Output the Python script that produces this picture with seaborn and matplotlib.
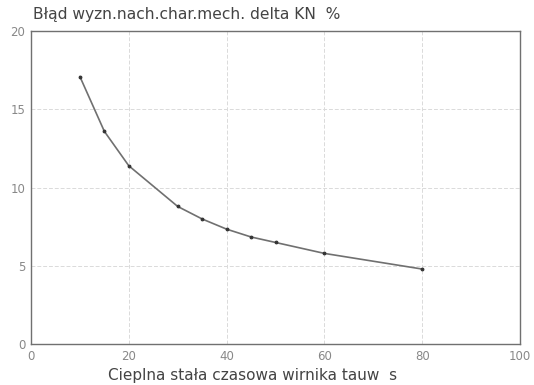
import numpy as np
import pandas as pd
import matplotlib
matplotlib.use("Agg")
import matplotlib.pyplot as plt
import seaborn as sns

# dane
tau_w = [10, 15, 20, 30, 35, 40, 45, 50, 60, 80]
delta_kn = [17.1, 13.6, 11.4, 8.8, 8.0, 7.35, 6.85, 6.5, 5.8, 4.8]
x_ticks = [0, 20, 40, 60, 80, 100]
y_ticks = [0, 5, 10, 15, 20]

df = pd.DataFrame({"tau": tau_w, "delta": delta_kn})

sns.set_theme(style="white")
plt.rcParams['font.family'] = ['DejaVu Sans']

fig = plt.figure(figsize=(5.34, 3.85), dpi=100)
ax = fig.add_axes([0.058, 0.106, 0.916, 0.813])

sns.lineplot(data=df, x="tau", y="delta", ax=ax, color="#707070", linewidth=1.2,
             marker="o", markersize=2.0, markerfacecolor="#333333",
             markeredgecolor="#333333")

ax.set_xlim(0, 100)
ax.set_ylim(0, 20)
ax.set_xticks(x_ticks)
ax.set_yticks(y_ticks)
ax.grid(True, color="#dadada", linestyle=(0, (4, 2)), linewidth=0.7)
for s in ax.spines.values():
    s.set_color("#707070")
    s.set_linewidth(1.0)
ax.tick_params(axis="both", labelsize=8.5, labelcolor="#888888", length=0, pad=4)

ax.set_xlabel("Cieplna stała czasowa wirnika tauw  s", fontsize=11, color="#444444")
ax.xaxis.set_label_coords(0.454, -0.075)
ax.set_ylabel("")
fig.text(0.062, 0.95, "Błąd wyzn.nach.char.mech. delta KN  %", fontsize=11.2, color="#444444")

plt.savefig("out.png", dpi=100)
